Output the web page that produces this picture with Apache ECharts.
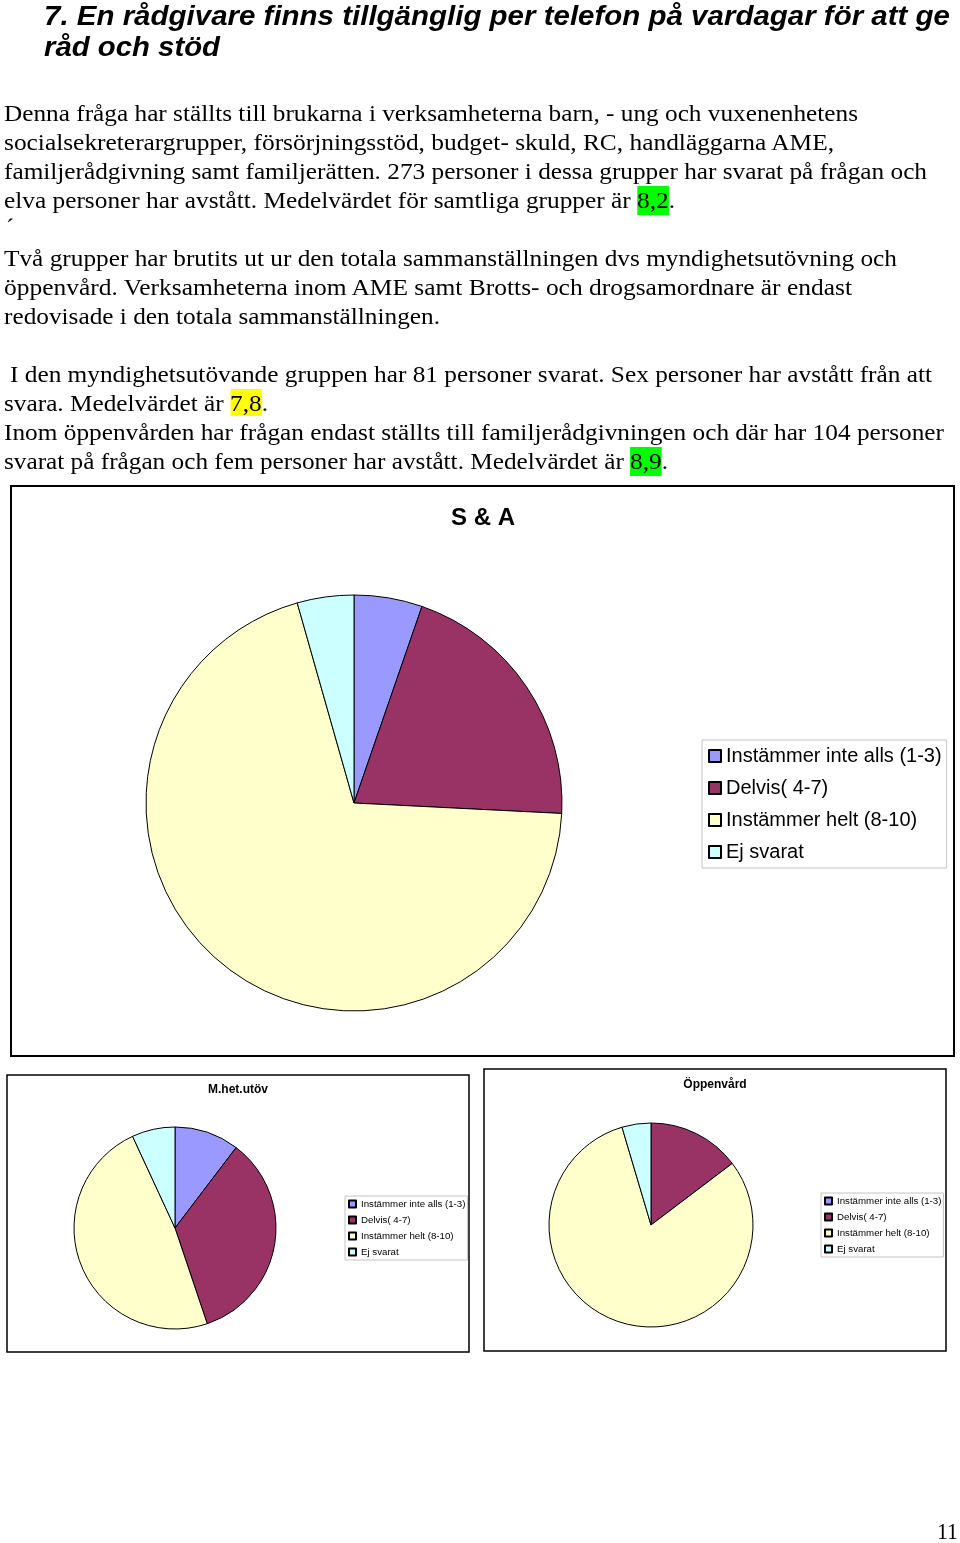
<!DOCTYPE html>
<html>
<head>
<meta charset="utf-8">
<script src="https://cdn.jsdelivr.net/npm/echarts@6/dist/echarts.min.js"></script>
<style>
html,body{margin:0;padding:0;background:#fff;width:960px;height:1543px;overflow:hidden;}
#chart{position:absolute;left:0;top:0;width:960px;height:1543px;}
.ln{position:absolute;white-space:nowrap;transform-origin:0 50%;color:#000;}
.t{font-family:'Liberation Sans',Arial,sans-serif;font-weight:bold;font-style:italic;font-size:27px;line-height:32px;}
.b{font-family:'Liberation Serif','Times New Roman',serif;font-size:24px;line-height:29px;}
.hg{background:#00ff00;display:inline-block;height:29px;}
.hy{background:#ffff00;display:inline-block;height:27px;}
</style>
</head>
<body>
<div id="chart"></div>
<div id="text"></div>
<script>
// ---- chart data ----
const categories = ['Instämmer inte alls (1-3)', 'Delvis( 4-7)', 'Instämmer helt (8-10)', 'Ej svarat'];
const sliceColors = ['#9999FF', '#993366', '#FFFFCC', '#CCFFFF'];
const totalValues = [5.3, 20.5, 69.8, 4.4];      // S & A
const mhetValues = [9, 30, 42, 6];               // M.het.utöv
const oppenValues = [0, 16, 88, 5];              // Öppenvård
const chartTitles = ['S & A', 'M.het.utöv', 'Öppenvård'];

// ---- page text (cls, left, right, top, html) ----
const textLines = [
  ['t', 44, 950, 0, '7. En rådgivare finns tillgänglig per telefon på vardagar för att ge'],
  ['t', 44, 220, 31, 'råd och stöd'],
  ['b', 4, 858, 99, 'Denna fråga har ställts till brukarna i verksamheterna barn, - ung och vuxenenhetens'],
  ['b', 4, 834, 128, 'socialsekreterargrupper, försörjningsstöd, budget- skuld, RC, handläggarna AME,'],
  ['b', 4, 927, 157, 'familjerådgivning samt familjerätten. 273 personer i dessa grupper har svarat på frågan och'],
  ['b', 4, 675, 186, 'elva personer har avstått. Medelvärdet för samtliga grupper är <span class="hg">8,2</span>.'],
  ['b', 6, null, 213, '´'],
  ['b', 4, 897, 244, 'Två grupper har brutits ut ur den totala sammanställningen dvs myndighetsutövning och'],
  ['b', 4, 852, 273, 'öppenvård. Verksamheterna inom AME samt Brotts- och drogsamordnare är endast'],
  ['b', 4, 440, 302, 'redovisade i den totala sammanställningen.'],
  ['b', 10, 932, 360, 'I den myndighetsutövande gruppen har 81 personer svarat. Sex personer har avstått från att'],
  ['b', 4, 268, 389, 'svara. Medelvärdet är <span class="hy">7,8</span>.'],
  ['b', 4, 944, 418, 'Inom öppenvården har frågan endast ställts till familjerådgivningen och där har 104 personer'],
  ['b', 4, 668, 447, 'svarat på frågan och fem personer har avstått. Medelvärdet är <span class="hg">8,9</span>.'],
  ['b', 937, 958, 1517, '11']
];

const host = document.getElementById('text');
const lineEls = textLines.map(function (l) {
  const d = document.createElement('div');
  d.className = 'ln ' + l[0];
  d.style.left = l[1] + 'px';
  d.style.top = l[3] + 'px';
  d.innerHTML = l[4];
  host.appendChild(d);
  return d;
});
function fitLines() {
  lineEls.forEach(function (d, i) {
    const l = textLines[i];
    if (l[2] == null) return;
    d.style.transform = 'none';
    const w = d.getBoundingClientRect().width;
    if (w > 0) d.style.transform = 'scaleX(' + ((l[2] - l[1]) / w) + ')';
  });
}
fitLines();
if (document.fonts && document.fonts.ready) document.fonts.ready.then(fitLines);

// ---- chart ----
function makeData(vals) {
  return categories.map(function (n, i) { return { name: n, value: vals[i] }; });
}
const pieBase = {
  type: 'pie',
  startAngle: 90,
  clockwise: true,
  label: { show: false },
  labelLine: { show: false },
  emphasis: { disabled: true },
  silent: true,
  animation: false,
  itemStyle: { borderColor: '#000', borderWidth: 1 }
};
function legendFor(left, top, opts) {
  return Object.assign({
    left: left, top: top,
    orient: 'vertical',
    data: categories,
    icon: 'rect',
    selectedMode: false,
    backgroundColor: '#fff',
    borderColor: '#c4c4c4',
    borderWidth: 1
  }, opts);
}
function titleFor(text, cx, cy, size) {
  return {
    text: text, left: cx - 5, top: cy - 5,
    textAlign: 'center', textVerticalAlign: 'middle',
    textStyle: { fontFamily: 'Liberation Sans, Arial, sans-serif', fontWeight: 'bold', fontSize: size, color: '#000' }
  };
}

const chart = echarts.init(document.getElementById('chart'), null, { renderer: 'canvas' });
chart.setOption({
  backgroundColor: '#fff',
  animation: false,
  color: sliceColors,
  title: [
    titleFor(chartTitles[0], 483, 518, 24),
    titleFor(chartTitles[1], 238, 1090, 12),
    titleFor(chartTitles[2], 715, 1085, 12)
  ],
  graphic: [
    { type: 'rect', z: 0, shape: { x: 11, y: 486, width: 943, height: 570 }, style: { fill: '#fff', stroke: '#000', lineWidth: 2 } },
    { type: 'rect', z: 0, shape: { x: 7, y: 1075, width: 462, height: 277 }, style: { fill: '#fff', stroke: '#000', lineWidth: 1.5 } },
    { type: 'rect', z: 0, shape: { x: 484, y: 1069, width: 462, height: 282 }, style: { fill: '#fff', stroke: '#000', lineWidth: 1.5 } }
  ],
  legend: [
    legendFor(702, 740, {
      itemWidth: 12, itemHeight: 12, itemGap: 10, padding: [5, 5, 5, 6],
      textStyle: { fontFamily: 'Liberation Sans, Arial, sans-serif', fontSize: 20, lineHeight: 22, color: '#000' }
    }),
    legendFor(345, 1196, {
      itemWidth: 7, itemHeight: 7, itemGap: 4, padding: [2, 2, 2, 3],
      textStyle: { fontFamily: 'Liberation Sans, Arial, sans-serif', fontSize: 9.7, lineHeight: 12, color: '#000' }
    }),
    legendFor(821, 1193, {
      itemWidth: 7, itemHeight: 7, itemGap: 4, padding: [2, 2, 2, 3],
      textStyle: { fontFamily: 'Liberation Sans, Arial, sans-serif', fontSize: 9.7, lineHeight: 12, color: '#000' }
    })
  ],
  series: [
    Object.assign({}, pieBase, { name: chartTitles[0], center: [354, 803], radius: 208, data: makeData(totalValues) }),
    Object.assign({}, pieBase, { name: chartTitles[1], center: [175, 1228], radius: 101, data: makeData(mhetValues) }),
    Object.assign({}, pieBase, { name: chartTitles[2], center: [651, 1225], radius: 102, data: makeData(oppenValues) })
  ]
});
</script>
</body>
</html>
